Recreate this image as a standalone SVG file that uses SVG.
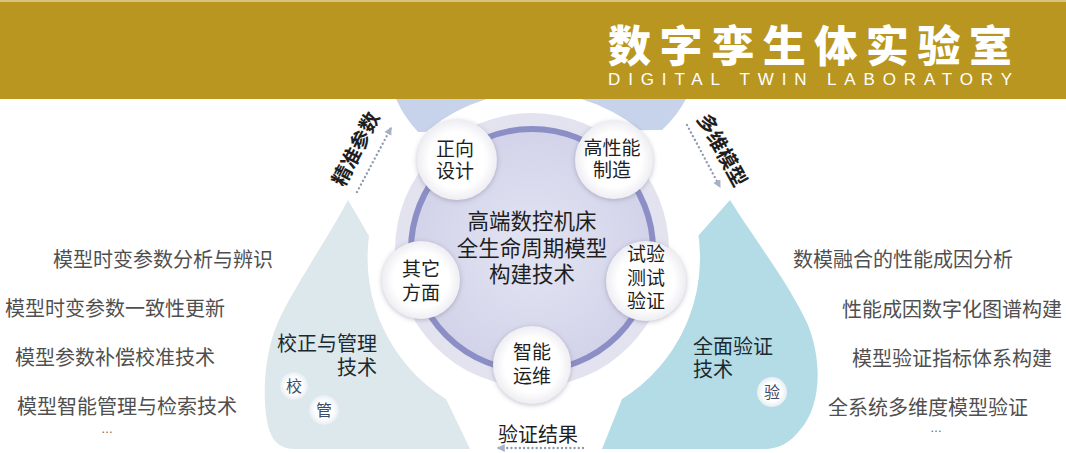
<svg xmlns="http://www.w3.org/2000/svg" width="1066" height="453" viewBox="0 0 1066 453">
<defs>
<style>
.cjk{font-family:"Noto Sans CJK SC","Noto Sans",sans-serif;}
.list{font-family:"Noto Sans CJK SC",sans-serif;font-size:20px;fill:#4f4f4f;}
.node{font-family:"Noto Sans CJK SC",sans-serif;font-size:19px;fill:#1e1e1e;text-anchor:middle;}
.center{font-family:"Noto Sans CJK SC",sans-serif;font-size:21.5px;fill:#1e1e1e;text-anchor:middle;}
.plabel{font-family:"Noto Sans CJK SC",sans-serif;font-size:20px;fill:#1c2a30;}
.badge{font-family:"Noto Sans CJK SC",sans-serif;font-size:16px;fill:#3b4b6b;text-anchor:middle;}
.dots{fill:none;stroke:#8E9AB0;stroke-width:2.4;stroke-dasharray:0.01 4.2;stroke-linecap:round;}
.sc{fill:url(#scg);filter:url(#sh);}
.bd{fill:url(#bdg);}
.ell{font-family:"Liberation Sans",sans-serif;font-size:12px;fill:#666;}
</style>
<radialGradient id="scg" cx="0.5" cy="0.5" r="0.5">
<stop offset="0.7" stop-color="#ffffff"/>
<stop offset="1" stop-color="#eeeef3"/>
</radialGradient>
<radialGradient id="bdg" cx="0.5" cy="0.5" r="0.5">
<stop offset="0.6" stop-color="#ffffff"/>
<stop offset="1" stop-color="#e6eef4"/>
</radialGradient>
<radialGradient id="disc" cx="0.5" cy="0.5" r="0.5">
<stop offset="0" stop-color="#E3E4F2"/>
<stop offset="1" stop-color="#D2D3E9"/>
</radialGradient>
<filter id="sh" x="-30%" y="-30%" width="160%" height="160%">
<feDropShadow dx="0" dy="1" stdDeviation="2.5" flood-color="#6f7088" flood-opacity="0.45"/>
</filter>
<marker id="ah" viewBox="0 0 8 8" refX="6" refY="4" markerWidth="9" markerHeight="9" orient="auto" markerUnits="userSpaceOnUse">
<path d="M0,0.5 L7,4 L0,7.5 Z" fill="#A6B0C6"/>
</marker>
</defs>
<rect x="0" y="0" width="1066" height="453" fill="#ffffff"/>

<g id="petals">
<path id="petal-top" d="M396,99 L686,99 Q677,116 662,130 L418,132 Q404,117 396,99 Z" fill="#C6D3EA"/>
<path id="petal-left" d="M348,200 C330,235 295,285 278,322 C262,358 262,410 270,432 C274,443 282,449 295,449 L470,449 L446,399 A166 166 0 0 1 369,236 Z" fill="#DCE8EB"/>
<path id="petal-right" d="M730,200 C755,240 790,285 808,325 C822,360 822,405 800,430 C790,443 778,449 765,449 L602,449 L622,399 A166 166 0 0 0 698,236 Z" fill="#B4DCE6"/>
<circle cx="534" cy="258" r="166" fill="#ffffff"/>
</g>

<g id="center">
<circle cx="532" cy="250" r="137" fill="#E3E3F0"/>
<circle cx="532" cy="250" r="121" fill="url(#disc)" stroke="#8C8EC6" stroke-width="6"/>
<text class="center" x="532" y="229">高端数控机床</text>
<text class="center" x="532" y="256">全生命周期模型</text>
<text class="center" x="532" y="282">构建技术</text>
</g>

<g id="node-zhengxiang">
<circle class="sc" cx="457" cy="160" r="40"/>
<text class="node" x="455" y="156">正向</text>
<text class="node" x="455" y="178">设计</text>
</g>
<g id="node-gaoxingneng">
<circle class="sc" cx="614" cy="160" r="39"/>
<text class="node" x="612" y="155">高性能</text>
<text class="node" x="612" y="177">制造</text>
</g>
<g id="node-qita">
<circle class="sc" cx="421" cy="280" r="39"/>
<text class="node" x="421" y="276">其它</text>
<text class="node" x="421" y="300">方面</text>
</g>
<g id="node-shiyan">
<circle class="sc" cx="646" cy="281" r="40"/>
<text class="node" x="646" y="261">试验</text>
<text class="node" x="646" y="285">测试</text>
<text class="node" x="646" y="308">验证</text>
</g>
<g id="node-zhineng">
<circle class="sc" cx="532" cy="365" r="39"/>
<text class="node" x="532" y="359">智能</text>
<text class="node" x="532" y="383">运维</text>
</g>

<g id="node-jiaozheng">
<text class="plabel" x="377" y="351" text-anchor="end">校正与管理</text>
<text class="plabel" x="377" y="375" text-anchor="end">技术</text>
<circle class="bd" cx="294" cy="386" r="14"/>
<text class="badge" x="294" y="392">校</text>
<circle class="bd" cx="324" cy="410" r="15"/>
<text class="badge" x="324" y="416">管</text>
</g>

<g id="node-quanmian">
<text class="plabel" x="693" y="354">全面验证</text>
<text class="plabel" x="693" y="377">技术</text>
<circle class="bd" cx="772" cy="392" r="15"/>
<text class="badge" x="772" y="398">验</text>
</g>

<g id="list-left">
<text class="list" x="53" y="267">模型时变参数分析与辨识</text>
<text class="list" x="5" y="316">模型时变参数一致性更新</text>
<text class="list" x="15" y="365">模型参数补偿校准技术</text>
<text class="list" x="17" y="414">模型智能管理与检索技术</text>
<text class="ell" x="101" y="433">…</text>
</g>

<g id="list-right">
<text class="list" x="793" y="267">数模融合的性能成因分析</text>
<text class="list" x="842" y="317">性能成因数字化图谱构建</text>
<text class="list" x="852" y="366">模型验证指标体系构建</text>
<text class="list" x="828" y="415">全系统多维度模型验证</text>
<text class="ell" x="930" y="432">…</text>
</g>

<g id="connectors">
<path class="dots" d="M357,192 L391,128" marker-end="url(#ah)"/>
<path class="dots" d="M687,125 L720,187" marker-end="url(#ah)"/>
<path class="dots" d="M583,448 L498,448" marker-end="url(#ah)"/>
</g>

<g id="edge-labels">
<text class="cjk" transform="translate(356,149) rotate(-63)" x="0" y="7" text-anchor="middle" font-size="20" font-weight="bold" fill="#1e1e1e">精准参数</text>
<text class="cjk" transform="translate(722,150) rotate(61)" x="0" y="7" text-anchor="middle" font-size="20" font-weight="bold" fill="#1e1e1e">多维模型</text>
<text class="cjk" x="538" y="442" text-anchor="middle" font-size="20" fill="#1e1e1e">验证结果</text>
</g>

<g id="header">
<rect x="0" y="0" width="1066" height="99" fill="#B8961F"/>
<rect x="0" y="0" width="1066" height="2" fill="#D6C47E"/>
<text class="cjk" x="608" y="62" font-size="43" font-weight="900" fill="#ffffff" textLength="404" lengthAdjust="spacing">数字孪生体实验室</text>
<text x="608" y="85" font-family="Liberation Sans, sans-serif" font-size="17" fill="#ffffff" textLength="404" lengthAdjust="spacing">DIGITAL TWIN LABORATORY</text>
</g>
</svg>
